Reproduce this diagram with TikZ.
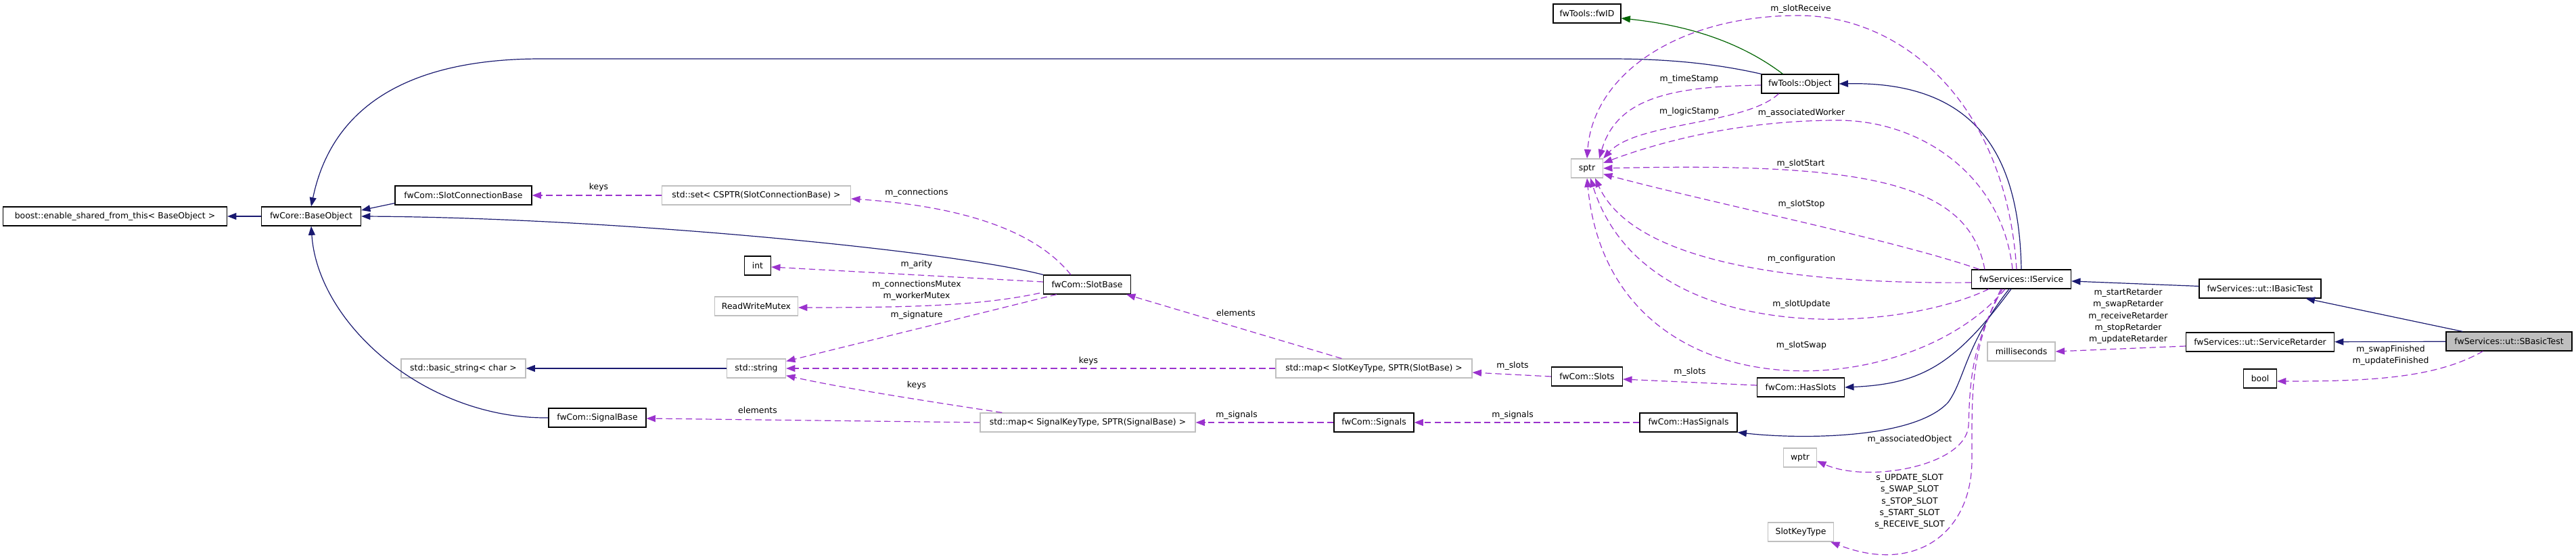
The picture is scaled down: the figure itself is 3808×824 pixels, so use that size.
\documentclass[tikz,border=0pt]{standalone}
\usepackage{fontspec}
\setmainfont{DejaVu Sans}
\definecolor{edgeBlue}{RGB}{25, 25, 112}
\definecolor{edgeGreen}{RGB}{0, 100, 0}
\definecolor{memberPurple}{RGB}{154, 50, 205}
\definecolor{extGray}{RGB}{191, 191, 191}
\usetikzlibrary{arrows.meta, calc}

\begin{document}
\begin{tikzpicture}[
    x=0.75pt, y=-0.75pt,
    font=\fontsize{9.3}{13}\selectfont,
    boxw/.style={minimum width=#1*0.75pt},
    cls/.style={
      rectangle, draw=black, fill=white, line width=0.9pt,
      minimum height=21pt, inner sep=1pt
    },
    ext/.style={cls, draw=extGray},
    lbl/.style={align=center, inner sep=0pt},
    inherit/.style={-{Triangle[length=10pt, width=7.5pt]}, edgeBlue, line width=0.9pt},
    prot/.style={inherit, edgeGreen},
    member/.style={-{Triangle[length=10pt, width=7.5pt]}, memberPurple, line width=0.9pt,
      dash pattern=on 7pt off 4pt},
  ]
    \useasboundingbox (0,0) rectangle (3808,824);

    \node[cls, boxw=100] (fwid) at (2346,20) {fwTools::fwID};
    \node[cls, boxw=114] (object) at (2661,124) {fwTools::Object};
    \node[cls, boxw=331] (boost) at (170,320) {boost::enable\_shared\_from\_this< BaseObject >};
    \node[cls, boxw=147] (baseobj) at (460,320) {fwCore::BaseObject};
    \node[cls, boxw=202] (scb) at (685,289) {fwCom::SlotConnectionBase};
    \node[ext, boxw=279] (cset) at (1118,289) {std::set< CSPTR(SlotConnectionBase) >};
    \node[cls, boxw=39] (nint) at (1120,393) {int};
    \node[ext, boxw=123] (rwmutex) at (1118,453) {ReadWriteMutex};
    \node[ext, boxw=184] (basicstr) at (685,545) {std::basic\_string< char >};
    \node[ext, boxw=87] (stdstr) at (1118,545) {std::string};
    \node[cls, boxw=129] (slotbase) at (1607,421) {fwCom::SlotBase};
    \node[cls, boxw=144] (signalbase) at (883,618) {fwCom::SignalBase};
    \node[ext, boxw=318] (sigmap) at (1608,625) {std::map< SignalKeyType, SPTR(SignalBase) >};
    \node[ext, boxw=290] (slotmap) at (2031,545) {std::map< SlotKeyType, SPTR(SlotBase) >};
    \node[cls, boxw=105] (slots) at (2346,557) {fwCom::Slots};
    \node[cls, boxw=118] (signals) at (2031,625) {fwCom::Signals};
    \node[cls, boxw=129] (hasslots) at (2662,573) {fwCom::HasSlots};
    \node[cls, boxw=144] (hassignals) at (2496,625) {fwCom::HasSignals};
    \node[ext, boxw=49] (wptr) at (2661,677) {wptr};
    \node[ext, boxw=97] (slotkey) at (2662,787) {SlotKeyType};
    \node[ext, boxw=47] (sptr) at (2346,249) {sptr};
    \node[cls, boxw=147] (iservice) at (2988,413) {fwServices::IService};
    \node[cls, boxw=180] (ibasic) at (3341,427) {fwServices::ut::IBasicTest};
    \node[cls, boxw=219] (retarder) at (3341,506) {fwServices::ut::ServiceRetarder};
    \node[ext, boxw=100] (millis) at (2988,520) {milliseconds};
    \node[cls, boxw=186, fill=extGray] (sbasic) at (3709,505) {fwServices::ut::SBasicTest};
    \node[cls, boxw=49] (nbool) at (3341,560) {bool};

    % Inheritance
    \foreach \i/\j in {baseobj/boost, stdstr/basicstr, ibasic/iservice, sbasic/retarder} {
      \draw[inherit] (\i) -- (\j);
    }
    \draw[inherit] ($(scb.south west)+(0,-3)$) -- ($(baseobj.east)+(0,-9)$);
    \draw[inherit] (slotbase.north west) .. controls (1400,370) and (900,322) .. (baseobj.east);
    \draw[inherit] (object.north west) .. controls (2540,95) and (2470,87) .. (2380,87)
      -- (800,87) .. controls (600,87) and (490,160) .. (baseobj.north);
    \draw[inherit] (signalbase.west) .. controls (630,620) and (470,480) .. (baseobj.south);
    \draw[inherit] (iservice.north) .. controls (2985,240) and (2930,120) .. (object.east);
    \draw[inherit] ($(iservice.south)+(-15,0)$) .. controls (2890,540) and (2840,568) .. (hasslots.east);
    \draw[inherit] ($(iservice.south)+(-18,0)$) .. controls (2905,510) and (2905,560) .. (2880,595)
      .. controls (2830,650) and (2660,650) .. (hassignals.south east);
    \draw[inherit] ($(sbasic.north west)+(25,0)$) -- ($(ibasic.south east)+(-23,0)$);
    \draw[prot] ($(object.north west)+(32,0)$) .. controls (2590,75) and (2520,40) .. ($(fwid.east)+(0,7)$);

    % Members
    \foreach \i/\j in {cset/scb, slotmap/stdstr, signals/sigmap, hassignals/signals} {
      \draw[member] (\i) -- (\j);
    }
    \draw[member] ($(slotbase.north west)+(41,0)$) .. controls (1530,340) and (1420,305) .. ($(cset.east)+(0,5)$);
    \draw[member] ($(slotbase.west)+(0,-4)$) -- ($(nint.east)+(0,2)$);
    \draw[member] ($(slotbase.south west)+(-5,-2)$) .. controls (1450,452) and (1350,455) .. ($(rwmutex.east)+(0,2)$);
    \draw[member] ($(slotbase.south west)+(20,0)$) -- ($(stdstr.north east)+(0,4)$);
    \draw[member] ($(slotmap.north west)+(98,0)$) -- ($(slotbase.south east)+(-7,0)$);
    \draw[member] ($(sigmap.north west)+(33,0)$) .. controls (1380,595) and (1250,575) .. ($(stdstr.south east)+(0,-4)$);
    \draw[member] (sigmap.west) -- ($(signalbase.east)+(0,1)$);
    \draw[member] (slots.west) -- ($(slotmap.east)+(0,6)$);
    \draw[member] ($(hasslots.west)+(0,-3)$) -- ($(slots.east)+(0,4)$);
    \draw[member] ($(object.west)+(0,2)$) .. controls (2470,128) and (2390,145) .. ($(sptr.north east)+(-6,0)$);
    \draw[member] ($(object.south west)+(26,0)$) .. controls (2580,185) and (2420,180) .. (sptr.north east);
    \draw[member] ($(iservice.north)+(-7,0)$) .. controls (2965,150) and (2810,23) .. (2659,23)
      .. controls (2480,23) and (2355,110) .. (sptr.north);
    \draw[member] ($(iservice.north)+(-13,0)$) .. controls (2960,260) and (2840,178) .. (2717,178)
      .. controls (2560,178) and (2440,215) .. ($(sptr.east)+(0,-8)$);
    \draw[member] ($(iservice.north west)+(20,0)$) .. controls (2910,270) and (2760,240) .. (sptr.east);
    \draw[member] ($(iservice.north west)+(12,0)$) .. controls (2800,355) and (2550,305) .. ($(sptr.south east)+(0,-6)$);
    \draw[member] ($(iservice.west)+(0,5)$) .. controls (2700,420) and (2420,400) .. ($(sptr.south)+(12,0)$);
    \draw[member] ($(iservice.south west)+(26,0)$) .. controls (2800,495) and (2430,515) .. ($(sptr.south)+(5,0)$);
    \draw[member] ($(iservice.south)+(-24,0)$) .. controls (2820,600) and (2380,620) .. (sptr.south);
    \draw[member] ($(iservice.south)+(-28,0)$) .. controls (2915,510) and (2912,560) .. (2910,630)
      .. controls (2905,690) and (2760,715) .. ($(wptr.east)+(0,5)$);
    \draw[member] ($(iservice.south)+(-30,0)$) .. controls (2912,520) and (2915,580) .. (2915,680)
      .. controls (2915,790) and (2830,850) .. ($(slotkey.south east)+(-5,0)$);
    \draw[member] ($(retarder.west)+(0,6)$) -- (millis.east);
    \draw[member] ($(sbasic.south west)+(55,0)$) .. controls (3600,560) and (3500,564) .. ($(nbool.east)+(0,4)$);

    % Labels
    \node[lbl] (lkeysA) at (885,277) {keys};
    \node[lbl] (lconn) at (1355,285) {m\_connections};
    \node[lbl] (larity) at (1355,391) {m\_arity};
    \node[lbl] (lmutex) at (1355,430) {m\_connectionsMutex\\m\_workerMutex};
    \node[lbl] (lsign) at (1355,466) {m\_signature};
    \node[lbl] (lelemA) at (1827,463) {elements};
    \node[lbl] (lkeysB) at (1609,534) {keys};
    \node[lbl] (lkeysC) at (1355,570) {keys};
    \node[lbl] (lelemB) at (1120,607) {elements};
    \node[lbl] (lslotsA) at (2236,541) {m\_slots};
    \node[lbl] (lsignalsA) at (1828,614) {m\_signals};
    \node[lbl] (lslotsB) at (2498,550) {m\_slots};
    \node[lbl] (lsignalsB) at (2236,614) {m\_signals};
    \node[lbl] (ltime) at (2497,117) {m\_timeStamp};
    \node[lbl] (llogic) at (2497,165) {m\_logicStamp};
    \node[lbl] (lrecv) at (2662,13) {m\_slotReceive};
    \node[lbl] (lworker) at (2663,167) {m\_associatedWorker};
    \node[lbl] (lstart) at (2662,242) {m\_slotStart};
    \node[lbl] (lstop) at (2663,302) {m\_slotStop};
    \node[lbl] (lconf) at (2663,383) {m\_configuration};
    \node[lbl] (lupdate) at (2663,450) {m\_slotUpdate};
    \node[lbl] (lswap) at (2663,511) {m\_slotSwap};
    \node[lbl] (lassoc) at (2823,650) {m\_associatedObject};
    \node[lbl] (lslotkeys) at (2823,742)
      {s\_UPDATE\_SLOT\\s\_SWAP\_SLOT\\s\_STOP\_SLOT\\s\_START\_SLOT\\s\_RECEIVE\_SLOT};
    \node[lbl] (lretard) at (3146,468)
      {m\_startRetarder\\m\_swapRetarder\\m\_receiveRetarder\\m\_stopRetarder\\m\_updateRetarder};
    \node[lbl] (lfinish) at (3534,526) {m\_swapFinished\\m\_updateFinished};
  \end{tikzpicture}
\end{document}
